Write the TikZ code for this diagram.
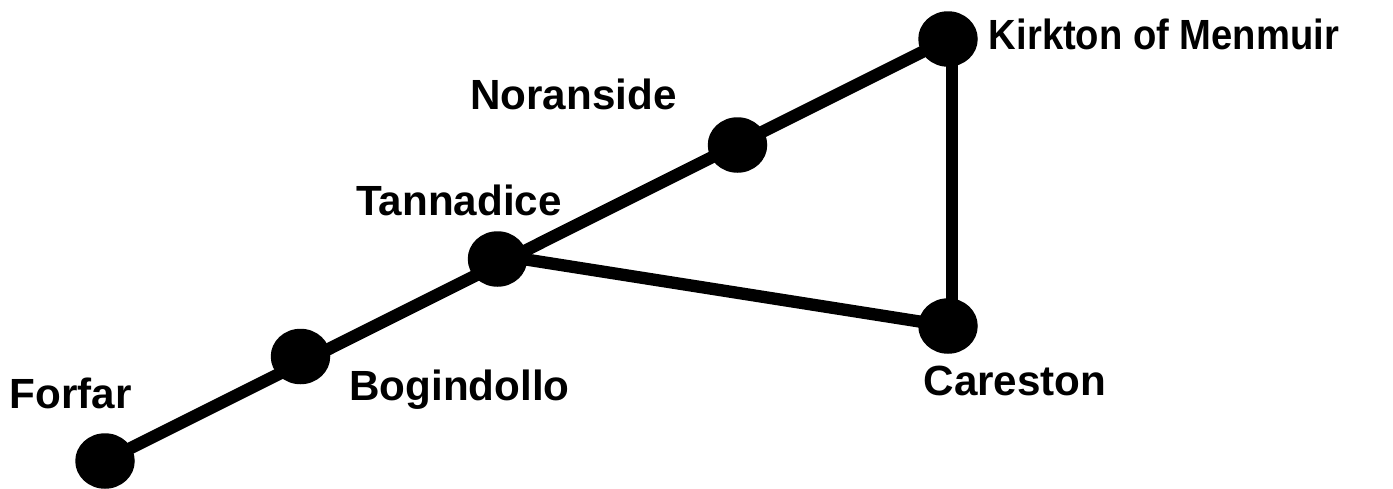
\documentclass[tikz,border=0pt]{standalone}
\usepackage{fontspec}
\setmainfont{Liberation Sans}
\usetikzlibrary{positioning,shapes.geometric}
\tikzset{stop/.style={ellipse,fill=black,inner sep=0pt,minimum width=59.5pt,minimum height=55.5pt},
lbl/.style={font=\fontsize{42.2}{48}\selectfont\bfseries,inner sep=0pt},
track/.style={line width=12.3pt}}
\begin{document}
\begin{tikzpicture}[y=-1pt,x=1pt]
\useasboundingbox (0,0) rectangle (1393,488);
\node[stop] (forfar) at (105,461) {};
\node[stop] (bogindollo) at (300.5,356.5) {};
\node[stop] (tannadice) at (497.5,259) {};
\node[stop] (noranside) at (737.5,145) {};
\node[stop] (kirkton) at (948,39) {};
\node[stop] (careston) at (948,326) {};

\draw[track] (forfar.center) -- (kirkton.center);
\draw[track] ([xshift=4pt]kirkton.center) -- ([xshift=4pt]careston.center);
\draw[track] ([yshift=4pt]tannadice.center) -- (careston.center);

\node[lbl] (lforfar) at (70.5,393.5) {Forfar};
\node[lbl] (lbogindollo) at (459.5,390) {Bogindollo};
\node[lbl] (ltannadice) at (459,200) {Tannadice};
\node[lbl] (lnoranside) at (573.5,94) {Noranside};
\node[lbl,xscale=.905,transform shape] (lkirkton) at (1164,34) {Kirkton of Menmuir};
\node[lbl] (lcareston) at (1015,381) {Careston};
\end{tikzpicture}
\end{document}
